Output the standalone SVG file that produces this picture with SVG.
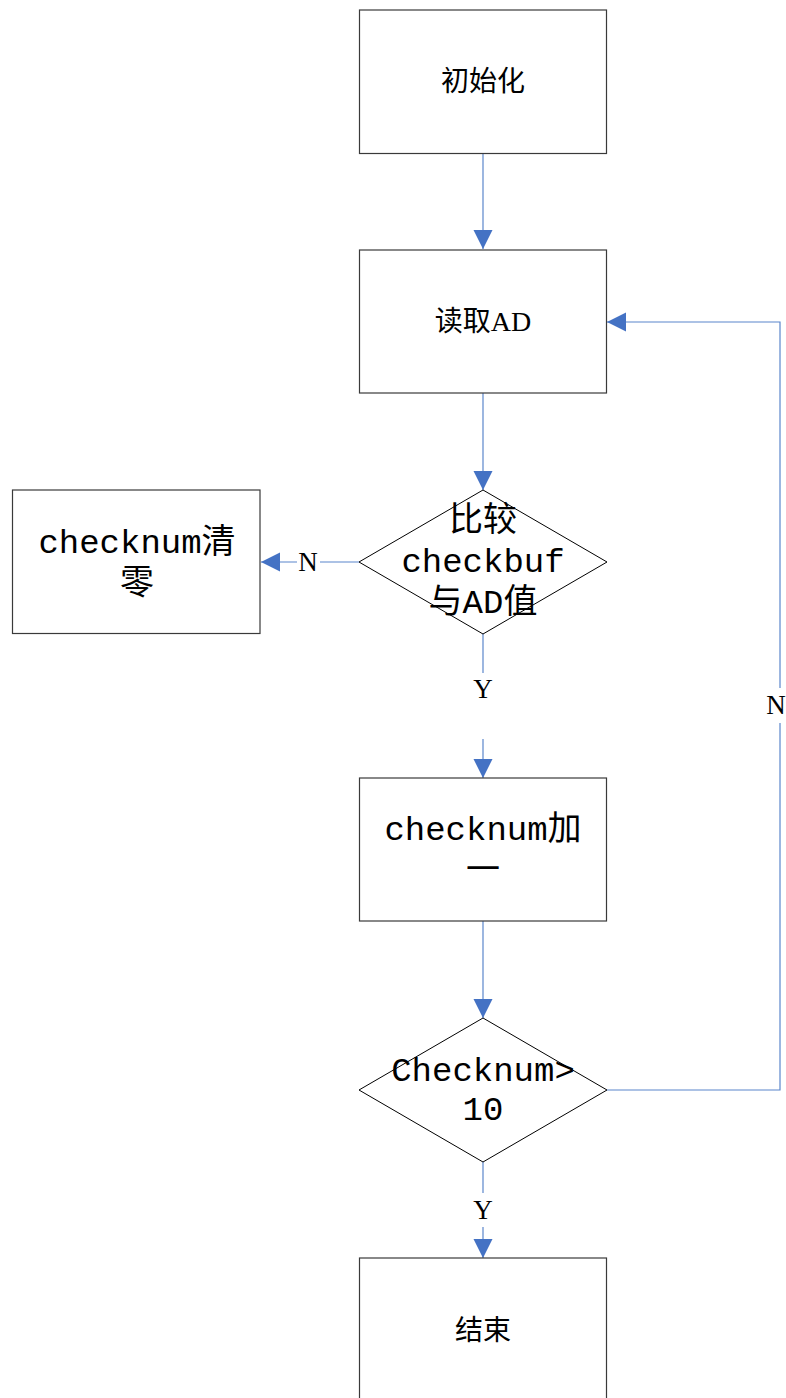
<svg xmlns="http://www.w3.org/2000/svg" width="786" height="1398" viewBox="0 0 786 1398">
  <style>
    .box { fill: #ffffff; stroke: #3a3a3a; stroke-width: 1.2; }
    .dia { fill: #ffffff; stroke: #000000; stroke-width: 1; }
    .link { fill: none; stroke: #5b86cc; stroke-width: 1.2; }
    .cn { font-family: "Liberation Serif", "Noto Sans CJK SC", serif; font-size: 28px; fill: #000; text-anchor: middle; }
    .mono { font-family: "Liberation Mono", "Noto Sans CJK SC", monospace; font-size: 34px; fill: #000; text-anchor: middle; }
    .lbl { font-family: "Liberation Serif", serif; font-size: 27px; fill: #000; text-anchor: middle; }
  </style>
  <defs>
    <marker id="arrow" viewBox="0 0 20 20" refX="20" refY="10" markerWidth="19" markerHeight="20" markerUnits="userSpaceOnUse" orient="auto">
      <path d="M0,0 L20,10 L0,20 z" fill="#4472c4"/>
    </marker>
  </defs>
  <rect x="0" y="0" width="786" height="1398" fill="#ffffff"/>

  <!-- connectors -->
  <g id="connectors">
    <line class="link" x1="483" y1="154" x2="483" y2="249" marker-end="url(#arrow)"/>
    <line class="link" x1="483" y1="393" x2="483" y2="490" marker-end="url(#arrow)"/>
    <!-- compare: N branch to the left -->
    <line class="link" x1="359" y1="562" x2="320" y2="562"/>
    <line class="link" x1="297" y1="562" x2="261" y2="562" marker-end="url(#arrow)"/>
    <text class="lbl" x="308" y="571">N</text>
    <!-- compare: Y branch downwards -->
    <line class="link" x1="483" y1="634" x2="483" y2="673"/>
    <text class="lbl" x="483" y="698">Y</text>
    <line class="link" x1="483" y1="739" x2="483" y2="778" marker-end="url(#arrow)"/>
    <line class="link" x1="483" y1="921" x2="483" y2="1018" marker-end="url(#arrow)"/>
    <!-- threshold: N loops back to reading -->
    <polyline class="link" points="607,1090 780,1090 780,723"/>
    <polyline class="link" points="780,688 780,322 607,322" marker-end="url(#arrow)"/>
    <text class="lbl" x="776" y="714" font-size="26">N</text>
    <!-- threshold: Y to end -->
    <line class="link" x1="483" y1="1162" x2="483" y2="1193"/>
    <text class="lbl" x="483" y="1219">Y</text>
    <line class="link" x1="483" y1="1227" x2="483" y2="1258" marker-end="url(#arrow)"/>
  </g>

  <g id="init">
    <rect class="box" x="359.5" y="10" width="247" height="143.5"/>
    <text class="cn" x="483" y="91">初始化</text>
  </g>

  <g id="read-ad">
    <rect class="box" x="359.5" y="250" width="247" height="143"/>
    <text class="cn" x="483" y="331">读取AD</text>
  </g>

  <g id="compare">
    <polygon class="dia" points="483,490 607,562 483,634 359,562"/>
    <text class="mono" x="483" y="531">比较</text>
    <text class="mono" x="483" y="572">checkbuf</text>
    <text class="mono" x="483" y="613">与AD值</text>
  </g>

  <g id="clear">
    <rect class="box" x="12.5" y="490" width="247.5" height="143.5"/>
    <text class="mono" x="137" y="553">checknum清</text>
    <text class="mono" x="137" y="594">零</text>
  </g>

  <g id="increment">
    <rect class="box" x="359.5" y="778" width="247" height="143"/>
    <text class="mono" x="483" y="840">checknum加</text>
    <text class="mono" x="483" y="881">一</text>
  </g>

  <g id="threshold">
    <polygon class="dia" points="483,1018 607,1090 483,1162 359,1090"/>
    <text class="mono" x="483" y="1081">Checknum&gt;</text>
    <text class="mono" x="483" y="1120">10</text>
  </g>

  <g id="end">
    <rect class="box" x="359.5" y="1258" width="247" height="160"/>
    <text class="cn" x="483" y="1340">结束</text>
  </g>
</svg>
